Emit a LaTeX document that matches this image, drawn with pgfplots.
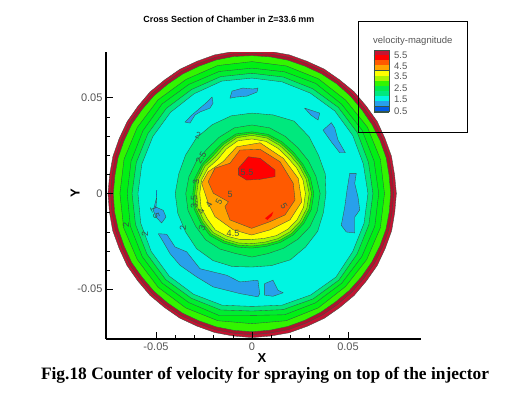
\documentclass[border=0pt]{standalone}
\usepackage{fontspec}
\setmainfont{Liberation Sans}
\newfontfamily\capfont{Liberation Serif}
\usepackage{pgfplots}
\usepackage{pgfplotstable}
\pgfplotsset{compat=1.18}
\definecolor{cl}{RGB}{55,85,70}
\definecolor{txg}{RGB}{85,85,85}
\definecolor{cCr}{RGB}{195,20,50}
\definecolor{cRd}{RGB}{255,0,0}
\definecolor{cOr}{RGB}{255,90,0}
\definecolor{cAm}{RGB}{255,165,0}
\definecolor{cYe}{RGB}{255,255,0}
\definecolor{cLi}{RGB}{170,245,0}
\definecolor{cG0}{RGB}{100,245,0}
\definecolor{cG1}{RGB}{50,245,0}
\definecolor{cG2}{RGB}{0,240,20}
\definecolor{cG3}{RGB}{0,235,75}
\definecolor{cG4}{RGB}{0,232,125}
\definecolor{cCy}{RGB}{0,245,225}
\definecolor{cBl}{RGB}{40,160,235}
\definecolor{cB2}{RGB}{0,90,230}
% outer rim: angle (deg), radius of contours
\pgfplotstableread{
a c0 c1 c2
0 .0752 .0738 .0722
7.5 .0749 .0736 .0720
15 .0752 .0739 .0723
22.5 .0750 .0737 .0722
30 .0753 .0738 .0721
37.5 .0750 .0735 .0720
45 .0752 .0737 .0722
52.5 .0749 .0736 .0723
60 .0751 .0738 .0722
67.5 .0748 .0736 .0720
75 .0750 .0737 .0721
82.5 .0748 .0735 .0720
90 .0746 .0733 .0720
97.5 .0748 .0736 .0722
105 .0750 .0737 .0722
112.5 .0748 .0735 .0720
120 .0750 .0736 .0721
127.5 .0748 .0734 .0720
135 .0751 .0737 .0722
142.5 .0749 .0735 .0721
150 .0751 .0738 .0723
157.5 .0749 .0736 .0721
165 .0750 .0737 .0722
172.5 .0748 .0735 .0720
180 .0750 .0737 .0722
187.5 .0749 .0736 .0722
195 .0751 .0737 .0721
202.5 .0749 .0735 .0720
210 .0752 .0738 .0723
217.5 .0750 .0735 .0720
225 .0752 .0737 .0722
232.5 .0750 .0736 .0721
240 .0752 .0737 .0722
247.5 .0750 .0735 .0720
255 .0752 .0737 .0721
262.5 .0751 .0736 .0721
270 .0753 .0738 .0722
277.5 .0751 .0735 .0720
285 .0753 .0736 .0719
292.5 .0751 .0733 .0717
300 .0753 .0733 .0716
307.5 .0751 .0731 .0714
315 .0753 .0732 .0716
322.5 .0751 .0732 .0717
330 .0753 .0735 .0719
337.5 .0751 .0735 .0720
345 .0753 .0737 .0722
352.5 .0750 .0736 .0721
360 .0752 .0738 .0722
}\outerT
% inner contours: angle (deg), radius of contours
\pgfplotstableread{
a g1 g2 g3 cy s1 s2 s3 ml lm yl
0 .0690 .0660 .0630 .0604 .0385 .0355 .0322 .0310 .0298 .0278
15 .0692 .0658 .0628 .0600 .0395 .0345 .0315 .0303 .0292 .0275
30 .0694 .0662 .0634 .0606 .0400 .0340 .0306 .0296 .0285 .0268
45 .0690 .0660 .0636 .0610 .0420 .0338 .0305 .0294 .0282 .0264
60 .0692 .0664 .0632 .0606 .0437 .0345 .0312 .0301 .0290 .0272
75 .0690 .0658 .0630 .0604 .0425 .0355 .0320 .0310 .0300 .0282
90 .0689 .0655 .0628 .0603 .0420 .0358 .0322 .0313 .0304 .0285
105 .0692 .0660 .0632 .0608 .0420 .0355 .0322 .0312 .0302 .0285
120 .0688 .0658 .0628 .0602 .0415 .0340 .0306 .0296 .0285 .0268
135 .0692 .0662 .0630 .0600 .0410 .0330 .0295 .0283 .0270 .0252
150 .0690 .0656 .0626 .0596 .0400 .0335 .0302 .0293 .0283 .0265
165 .0690 .0652 .0624 .0594 .0395 .0340 .0308 .0298 .0288 .0272
180 .0688 .0650 .0625 .0594 .0400 .0345 .0308 .0298 .0288 .0272
195 .0692 .0656 .0628 .0600 .0400 .0345 .0312 .0302 .0292 .0275
210 .0690 .0660 .0632 .0606 .0400 .0340 .0308 .0298 .0288 .0268
225 .0692 .0662 .0636 .0610 .0408 .0342 .0310 .0299 .0288 .0270
240 .0690 .0658 .0632 .0608 .0405 .0335 .0298 .0287 .0276 .0258
255 .0688 .0660 .0630 .0604 .0395 .0325 .0290 .0279 .0268 .0248
270 .0680 .0637 .0614 .0590 .0384 .0332 .0285 .0274 .0262 .0240
285 .0688 .0656 .0628 .0604 .0390 .0325 .0286 .0275 .0263 .0243
300 .0690 .0660 .0636 .0612 .0400 .0330 .0295 .0284 .0272 .0254
315 .0688 .0662 .0640 .0618 .0395 .0338 .0305 .0294 .0282 .0264
330 .0690 .0660 .0632 .0606 .0395 .0348 .0312 .0301 .0290 .0272
345 .0692 .0662 .0630 .0604 .0385 .0352 .0320 .0308 .0296 .0278
360 .0690 .0660 .0630 .0604 .0385 .0355 .0322 .0310 .0298 .0278
}\innerT
\pgfplotsset{
 band/.style={fill=#1,draw=cl,line width=.35pt,mark=none,data cs=polar},
 patch/.style={fill=#1,draw=cl,line width=.35pt,mark=none},
}
\newcommand{\lab}[4]{\node[text=cl,font=\fontsize{9}{9}\selectfont,inner sep=0pt,rotate=#3] at ({#1pt},{(393-#2)*1pt}) {#4};}
\newcommand{\cell}[2]{\fill[#2] (373.7pt,{(393-50-#1*5.14)*1pt}) rectangle (388.7pt,{(393-50-(#1+1)*5.14)*1pt});
 \draw[cl,line width=.3pt] (373.7pt,{(393-50-(#1+1)*5.14)*1pt}) -- (388.7pt,{(393-50-(#1+1)*5.14)*1pt});}
\begin{document}
\begin{tikzpicture}
\path[use as bounding box] (0,0) rectangle (516pt,393pt);
\begin{axis}[
 at={(106pt,54pt)},anchor=south west,
 scale only axis,width=315pt,height=287pt,
 xmin=-.07604,xmax=.08802,ymin=-.07602,ymax=.07393,
 axis x line=bottom,axis y line=left,
 axis line style={-,black,line width=1.1pt},
 axis on top,
 scaled ticks=false,
 xtick={-.05,0,.05},ytick={-.05,0,.05},
 xticklabels={-0.05,0,0.05},yticklabels={-0.05,0,0.05},
 minor tick num=4,
 tick align=inside,
 major tick length=6.5pt,minor tick length=3.5pt,
 tick style={black,line width=.8pt},
 minor tick style={black,line width=.5pt},
 ticklabel style={font=\fontsize{11}{12}\selectfont,text=txg},
 /pgf/number format/assume math mode=true,
 xlabel={X},ylabel={Y},
 x label style={at={(axis description cs:.495,-.066)},anchor=center,font=\bfseries\fontsize{13}{13}\selectfont},
 y label style={at={(axis description cs:-.098,.509)},anchor=center,font=\bfseries\fontsize{13}{13}\selectfont},
 title={Cross Section of Chamber in Z=33.6 mm},
 title style={at={(axis description cs:.39,1.094)},anchor=center,font=\bfseries\fontsize{8.9}{9}\selectfont},
]
\addplot[band=cCr] table[x=a,y=c0] {\outerT};
\addplot[band=cCr!90!black] table[x=a,y=c1] {\outerT};
\addplot[band=cG1] table[x=a,y=c2] {\outerT};
\addplot[band=cG2] table[x=a,y=g1] {\innerT};
\addplot[band=cG3!50!cG2] table[x=a,y=g2] {\innerT};
\addplot[band=cG4] table[x=a,y=g3] {\innerT};
\addplot[band=cCy] table[x=a,y=cy] {\innerT};
% low-velocity patches
\addplot[patch=cBl] coordinates {(-.0115,.0498)(-.0104,.0535)(-.0047,.0551)(.0005,.0546)(.0031,.0551)(.0026,.0530)(-.0026,.0509)(-.0083,.0504)(-.0115,.0498)};
\addplot[patch=cBl] coordinates {(-.0349,.0373)(-.0313,.0410)(-.0271,.0446)(-.0234,.0478)(-.0208,.0504)(-.0203,.0472)(-.0219,.0446)(-.0271,.0426)(-.0297,.0410)(-.0323,.0368)(-.0349,.0373)};
\addplot[patch=cBl] coordinates {(.0274,.0446)(.0353,.0420)(.0344,.0384)(.0307,.0410)(.0274,.0446)};
\addplot[patch=cBl] coordinates {(.0370,.0331)(.0413,.0370)(.0431,.0342)(.0448,.0279)(.0486,.0213)(.0457,.0213)(.0413,.0270)(.0370,.0331)};
\addplot[patch=cBl] coordinates {(.0509,.0105)(.0543,.0105)(.0535,.0053)(.0552,-.0018)(.0561,-.0086)(.0535,-.0123)(.0535,-.0206)(.0491,-.0201)(.0465,-.0166)(.0483,-.0071)(.0495,.0018)(.0509,.0105)};
\addplot[patch=cBl] coordinates {(-.0488,-.0210)(-.0444,-.0213)(-.0401,-.0279)(-.0340,-.0305)(-.0271,-.0393)(-.0132,-.0427)(-.0063,-.0462)(.0031,-.0453)(.0040,-.0523)(.0031,-.0540)(-.0063,-.0523)(-.0202,-.0488)(-.0288,-.0436)(-.0375,-.0375)(-.0427,-.0314)(-.0462,-.0253)(-.0488,-.0210)};
\addplot[patch=cBl] coordinates {(.0066,-.0471)(.0109,-.0453)(.0135,-.0505)(.0162,-.0519)(.0109,-.0537)(.0066,-.0531)(.0066,-.0471)};
\addplot[patch=cBl] coordinates {(-.0496,-.0018)(-.0500,-.0071)(-.0462,-.0088)(-.0448,-.0123)(-.0471,-.0154)(-.0500,-.0123)(-.0514,-.0088)(-.0496,-.0018)};
\addplot[cl!60!blue,line width=.5pt,mark=none] coordinates {(-.0496,.0018)(-.0498,-.0018)};
% central contours
\addplot[band=cG4] table[x=a,y=s1] {\innerT};
\addplot[band=cG3] table[x=a,y=s2] {\innerT};
\addplot[band=cG2] table[x=a,y=s3] {\innerT};
\addplot[band=cG0] table[x=a,y=ml] {\innerT};
\addplot[band=cLi] table[x=a,y=lm] {\innerT};
\addplot[band=cYe] table[x=a,y=yl] {\innerT};
\addplot[patch=cAm] coordinates {(-.0262,.0053)(-.0228,.0114)(-.0150,.0167)(-.0080,.0244)(.0042,.0265)(.0163,.0184)(.0241,.0079)(.0259,-.0043)(.0198,-.0138)(.0094,-.0190)(-.0002,-.0217)(-.0097,-.0190)(-.0193,-.0121)(-.0228,-.0051)(-.0245,.0001)(-.0262,.0053)};
\addplot[patch=cOr] coordinates {(-.0228,.0062)(-.0193,.0132)(-.0115,.0158)(-.0063,.0227)(.0042,.0231)(.0146,.0166)(.0215,.0053)(.0224,-.0034)(.0172,-.0112)(.0094,-.0147)(-.0002,-.0182)(-.0115,-.0138)(-.0141,-.0069)(-.0123,-.0043)(-.0201,.0001)(-.0228,.0062)};
\addplot[fill=cRd,draw=cl,line width=.3pt,mark=none] coordinates {(-.0071,.0132)(-.0019,.0192)(.0042,.0184)(.0120,.0123)(.0120,.0088)(.0042,.0074)(-.0028,.0070)(-.0071,.0097)(-.0071,.0132)};
\addplot[fill=cRd,draw=none,mark=none] coordinates {(.0068,-.0129)(.0111,-.0095)(.0103,-.0117)(.0080,-.0138)(.0068,-.0129)};
\end{axis}
% contour labels
\lab{126}{225}{90}{2}
\lab{145}{234}{90}{2}
\lab{155}{212}{-70}{1.5}
\lab{183}{228}{90}{2}
\lab{202}{228}{70}{3}
\lab{198}{135}{-20}{2}
\lab{201}{158}{60}{2.5}
\lab{196}{182}{90}{3}
\lab{194}{202}{90}{3.5}
\lab{201}{212}{80}{4}
\lab{209}{205}{60}{4}
\lab{219}{202}{60}{5}
\lab{233}{233}{0}{4.5}
\lab{230}{194}{0}{5}
\lab{247}{172}{0}{5.5}
\lab{284}{206}{-60}{5}
% legend
\draw[black,line width=.8pt] (358.7pt,{(393-21.7)*1pt}) rectangle (467.3pt,{(393-132.3)*1pt});
\node[anchor=west,inner sep=0pt,text=txg,font=\fontsize{9.5}{10}\selectfont] at (373pt,{(393-41)*1pt}) {velocity-magnitude};
\cell{0}{cCr}\cell{1}{cRd}\cell{2}{cOr}\cell{3}{cAm}\cell{4}{cYe}\cell{5}{cLi}\cell{6}{cG1}\cell{7}{cG3}\cell{8}{cG4}\cell{9}{cCy}\cell{10}{cBl}\cell{11}{cB2}
\draw[cl,line width=.4pt] (373.7pt,{(393-50)*1pt}) rectangle (388.7pt,{(393-111.7)*1pt});
\foreach \v/\y in {5.5/55,4.5/66,3.5/76,2.5/88,1.5/99,0.5/111}{
 \node[anchor=west,inner sep=0pt,text=txg,font=\fontsize{9.5}{10}\selectfont] at (394pt,{(393-\y)*1pt}) {\v};}
% caption
\node[anchor=base,inner sep=0pt,font=\capfont\bfseries\fontsize{17.4}{18}\selectfont] at (265pt,{(393-380)*1pt}) {Fig.18 Counter of velocity for spraying on top of the injector};
\end{tikzpicture}
\end{document}
